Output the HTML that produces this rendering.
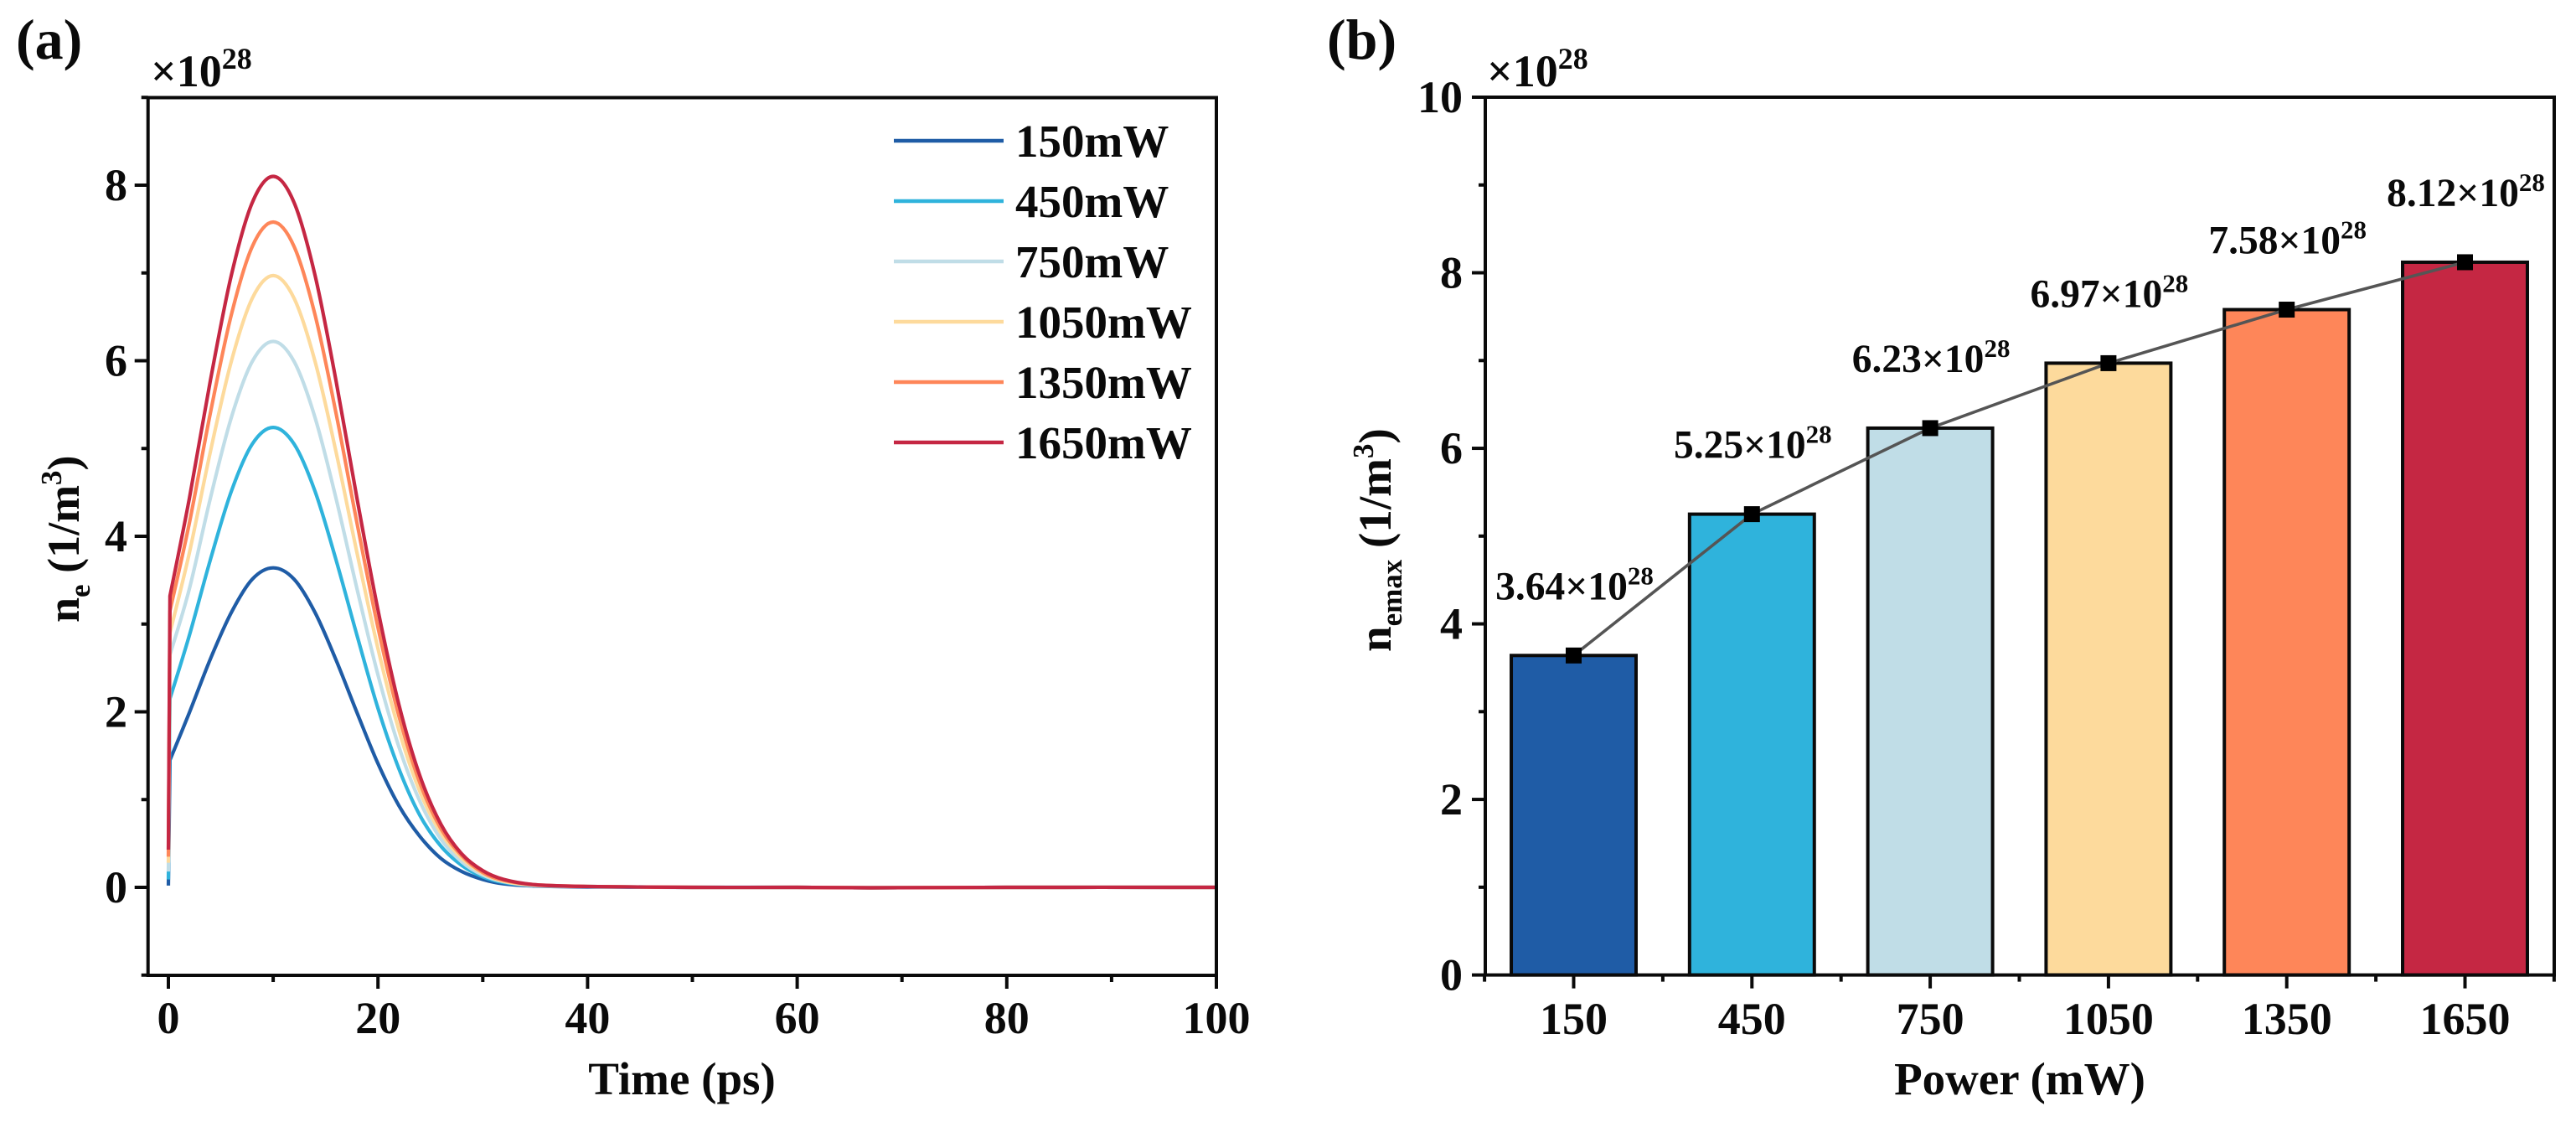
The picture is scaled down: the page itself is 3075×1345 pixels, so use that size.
<!DOCTYPE html>
<html lang="en">
<head>
<meta charset="utf-8">
<title>Electron density versus time and power</title>
<style>
html,body{margin:0;padding:0;background:#fff;width:3075px;height:1345px;overflow:hidden}
svg{display:block}
text{font-family:"Liberation Serif","DejaVu Serif",serif;font-weight:bold;fill:#0a0a0a}
</style>
</head>
<body>
<svg id="figure" xmlns="http://www.w3.org/2000/svg" width="3075" height="1345" viewBox="0 0 3075 1345">
  <rect x="0" y="0" width="3075" height="1345" fill="#ffffff"/>

  <text x="19" y="70" font-size="68">(a)</text>
  <text x="1584" y="70" font-size="68">(b)</text>

  <text x="180" y="103" font-size="54">×10<tspan dy="-21" font-size="36">28</tspan></text>
  <text x="1775" y="103" font-size="54">×10<tspan dy="-21" font-size="36">28</tspan></text>

  <text x="814" y="1306" font-size="55" text-anchor="middle">Time (ps)</text>
  <text x="2411" y="1306" font-size="55" text-anchor="middle">Power (mW)</text>

  <text transform="translate(94 743) rotate(-90)" font-size="54">n<tspan dy="13" font-size="35">e</tspan><tspan dy="-13"> (1/m</tspan><tspan dy="-21" font-size="35">3</tspan><tspan dy="21">)</tspan></text>
  <text transform="translate(1660 778) rotate(-90)" font-size="55">n<tspan dy="13" font-size="35">emax</tspan><tspan dy="-13"> (1/m</tspan><tspan dy="-21" font-size="35">3</tspan><tspan dy="21">)</tspan></text>
</svg>

<script>
// ---------- Panel (a) data: n_e (x10^28 1/m^3) ----------
const timePoints = [0, 0.15, 2, 4, 6, 8, 10, 12, 14, 16, 18, 20, 22, 24, 26, 28, 30, 32, 35, 40, 50, 60, 67, 80, 100];
const curve150  = [0.02, 1.45, 1.99, 2.60, 3.13, 3.51, 3.64, 3.51, 3.13, 2.59, 1.99, 1.41, 0.93, 0.58, 0.33, 0.18, 0.09, 0.04, 0.015, 0.005, 0, 0, -0.005, 0, 0];
const curve450  = [0.09, 2.15, 2.87, 3.73, 4.51, 5.05, 5.24, 5.05, 4.51, 3.73, 2.87, 2.04, 1.35, 0.82, 0.47, 0.25, 0.12, 0.055, 0.02, 0.01, 0, 0, -0.005, 0, 0];
const curve750  = [0.18, 2.65, 3.40, 4.43, 5.35, 5.99, 6.22, 5.99, 5.35, 4.43, 3.40, 2.42, 1.60, 0.98, 0.55, 0.29, 0.14, 0.065, 0.02, 0.01, 0, 0, -0.005, 0, 0];
const curve1050 = [0.28, 2.90, 3.81, 4.96, 5.99, 6.71, 6.97, 6.71, 5.99, 4.96, 3.81, 2.72, 1.79, 1.09, 0.62, 0.33, 0.16, 0.07, 0.025, 0.01, 0, 0, -0.005, 0, 0];
const curve1350 = [0.35, 3.15, 4.15, 5.40, 6.52, 7.30, 7.58, 7.30, 6.52, 5.40, 4.15, 2.96, 1.95, 1.19, 0.67, 0.36, 0.17, 0.08, 0.03, 0.01, 0, 0, -0.005, 0, 0];
const curve1650 = [0.43, 3.32, 4.43, 5.77, 6.97, 7.80, 8.10, 7.80, 6.97, 5.77, 4.43, 3.16, 2.08, 1.27, 0.72, 0.38, 0.19, 0.09, 0.03, 0.01, 0, 0, -0.005, 0, 0];
const curveNames = ["150mW", "450mW", "750mW", "1050mW", "1350mW", "1650mW"];
const curveColors = ["#1f5ca6", "#2fb3dc", "#c0dde7", "#fdda9c", "#fe8659", "#c52743"];
const timeMajorTicks = [0, 20, 40, 60, 80, 100];
const timeMinorTicks = [10, 30, 50, 70, 90];
const densityMajorTicks = [0, 2, 4, 6, 8];
const densityMinorTicks = [-1, 1, 3, 5, 7, 9];

// ---------- Panel (b) data ----------
const powerCategories = ["150", "450", "750", "1050", "1350", "1650"];
const peakValues = [3.64, 5.25, 6.23, 6.97, 7.58, 8.12];
const peakLabels = ["3.64", "5.25", "6.23", "6.97", "7.58", "8.12"];
const peakMajorTicks = [0, 2, 4, 6, 8, 10];
const peakMinorTicks = [1, 3, 5, 7, 9];

// ---------- Axis functions ----------
const xTime = t => 201 + (t / 100) * 1251;
const yDensity = v => 1059 - v * 104.75;
const xPower = i => 1878.5 + i * 212.8;
const yPeak = v => 1163.6 - v * 104.76;

const NS = "http://www.w3.org/2000/svg";
const svg = document.getElementById("figure");
function mk(tag, attrs, parent) {
  const el = document.createElementNS(NS, tag);
  for (const k in attrs) el.setAttribute(k, attrs[k]);
  (parent || svg).appendChild(el);
  return el;
}
function smoothPath(ts, vs) {
  const p = ts.map((t, i) => [xTime(t), yDensity(vs[i])]);
  let d = "M" + p[0][0].toFixed(2) + " " + p[0][1].toFixed(2) + " L" + p[1][0].toFixed(2) + " " + p[1][1].toFixed(2);
  for (let i = 1; i < p.length - 1; i++) {
    const a = i > 1 ? p[i - 1] : p[i];
    const b = p[i], c = p[i + 1];
    const e = i + 2 < p.length ? p[i + 2] : c;
    const c1x = b[0] + (c[0] - a[0]) / 6, c1y = b[1] + (c[1] - a[1]) / 6;
    const c2x = c[0] - (e[0] - b[0]) / 6, c2y = c[1] - (e[1] - b[1]) / 6;
    d += " C" + c1x.toFixed(2) + " " + c1y.toFixed(2) + " " + c2x.toFixed(2) + " " + c2y.toFixed(2) + " " + c[0].toFixed(2) + " " + c[1].toFixed(2);
  }
  return d;
}

const AXIS_W = 4, MAJOR = 16, MINOR = 8, FONT = 54;

// ---------- Panel (a) curves ----------
const panelA = mk("g", {});


const allCurves = [curve150, curve450, curve750, curve1050, curve1350, curve1650];
allCurves.forEach((vals, i) => {
  const path = mk("path", { d: smoothPath(timePoints, vals), fill: "none", stroke: curveColors[i], "stroke-width": 4.2, "stroke-linejoin": "round" }, panelA);
  
  
});

// Panel (a) frame and ticks
const frameA = mk("rect", { x: 176.7, y: 116.5, width: 1275.3, height: 1047.5, fill: "none", stroke: "#0a0a0a", "stroke-width": AXIS_W }, panelA);



timeMajorTicks.forEach(t => {
  const tick = mk("line", { x1: xTime(t), x2: xTime(t), y1: 1164, y2: 1164 + MAJOR, stroke: "#0a0a0a", "stroke-width": AXIS_W }, panelA);
  
  
  const lab = mk("text", { x: xTime(t), y: 1233, "font-size": FONT, "text-anchor": "middle" }, panelA);
  lab.textContent = t;
  
  
});
timeMinorTicks.forEach(t => {
  const tick = mk("line", { x1: xTime(t), x2: xTime(t), y1: 1164, y2: 1164 + MINOR, stroke: "#0a0a0a", "stroke-width": AXIS_W }, panelA);
  
  
});
densityMajorTicks.forEach(v => {
  const tick = mk("line", { x1: 176.7 - MAJOR, x2: 176.7, y1: yDensity(v), y2: yDensity(v), stroke: "#0a0a0a", "stroke-width": AXIS_W }, panelA);
  
  
  const lab = mk("text", { x: 152, y: yDensity(v) + 18, "font-size": FONT, "text-anchor": "end" }, panelA);
  lab.textContent = v;
  
  
});
densityMinorTicks.forEach(v => {
  const tick = mk("line", { x1: 176.7 - MINOR, x2: 176.7, y1: yDensity(v), y2: yDensity(v), stroke: "#0a0a0a", "stroke-width": AXIS_W }, panelA);
  
  
});

// Legend
curveNames.forEach((name, i) => {
  const rowY = 168 + i * 72;
  const swatch = mk("line", { x1: 1067, x2: 1198, y1: rowY, y2: rowY, stroke: curveColors[i], "stroke-width": 4.4 }, panelA);
  
  
  const lab = mk("text", { x: 1212, y: rowY + 19, "font-size": 55 }, panelA);
  lab.textContent = name;
  
  
});

// ---------- Panel (b) ----------
const panelB = mk("g", {});


const BAR_W = 0.7 * 212.8;
peakValues.forEach((v, i) => {
  const bar = mk("rect", { x: xPower(i) - BAR_W / 2, y: yPeak(v), width: BAR_W, height: yPeak(0) - yPeak(v), fill: curveColors[i], stroke: "#0a0a0a", "stroke-width": 4 }, panelB);
  
  
});

const connector = mk("polyline", {
  points: peakValues.map((v, i) => xPower(i).toFixed(1) + "," + yPeak(v).toFixed(1)).join(" "),
  fill: "none", stroke: "#555555", "stroke-width": 3.6
}, panelB);



peakValues.forEach((v, i) => {
  const marker = mk("rect", { x: xPower(i) - 9.5, y: yPeak(v) - 9.5, width: 19, height: 19, fill: "#000000" }, panelB);
  
  
  const lab = mk("text", { x: xPower(i) + 1, y: yPeak(v) - 67, "font-size": 47.5, "text-anchor": "middle" }, panelB);
  
  
  lab.appendChild(document.createTextNode(peakLabels[i] + "×10"));
  const sup = mk("tspan", { dy: -18, "font-size": 31 }, lab);
  sup.textContent = "28";
});

const frameB = mk("rect", { x: 1773, y: 116, width: 1276, height: 1047.6, fill: "none", stroke: "#0a0a0a", "stroke-width": AXIS_W }, panelB);



powerCategories.forEach((c, i) => {
  const tick = mk("line", { x1: xPower(i), x2: xPower(i), y1: 1163.6, y2: 1163.6 + MAJOR, stroke: "#0a0a0a", "stroke-width": AXIS_W }, panelB);
  
  
  const lab = mk("text", { x: xPower(i), y: 1234, "font-size": FONT, "text-anchor": "middle" }, panelB);
  lab.textContent = c;
  
  
});
for (let i = 0; i <= powerCategories.length; i++) {
  const tick = mk("line", { x1: xPower(i - 0.5), x2: xPower(i - 0.5), y1: 1163.6, y2: 1163.6 + MINOR, stroke: "#0a0a0a", "stroke-width": AXIS_W }, panelB);
  
  
}
peakMajorTicks.forEach(v => {
  const tick = mk("line", { x1: 1773 - MAJOR, x2: 1773, y1: yPeak(v), y2: yPeak(v), stroke: "#0a0a0a", "stroke-width": AXIS_W }, panelB);
  
  
  const lab = mk("text", { x: 1746, y: yPeak(v) + 18, "font-size": FONT, "text-anchor": "end" }, panelB);
  lab.textContent = v;
  
  
});
peakMinorTicks.forEach(v => {
  const tick = mk("line", { x1: 1773 - MINOR, x2: 1773, y1: yPeak(v), y2: yPeak(v), stroke: "#0a0a0a", "stroke-width": AXIS_W }, panelB);
  
  
});
</script>
</body>
</html>
